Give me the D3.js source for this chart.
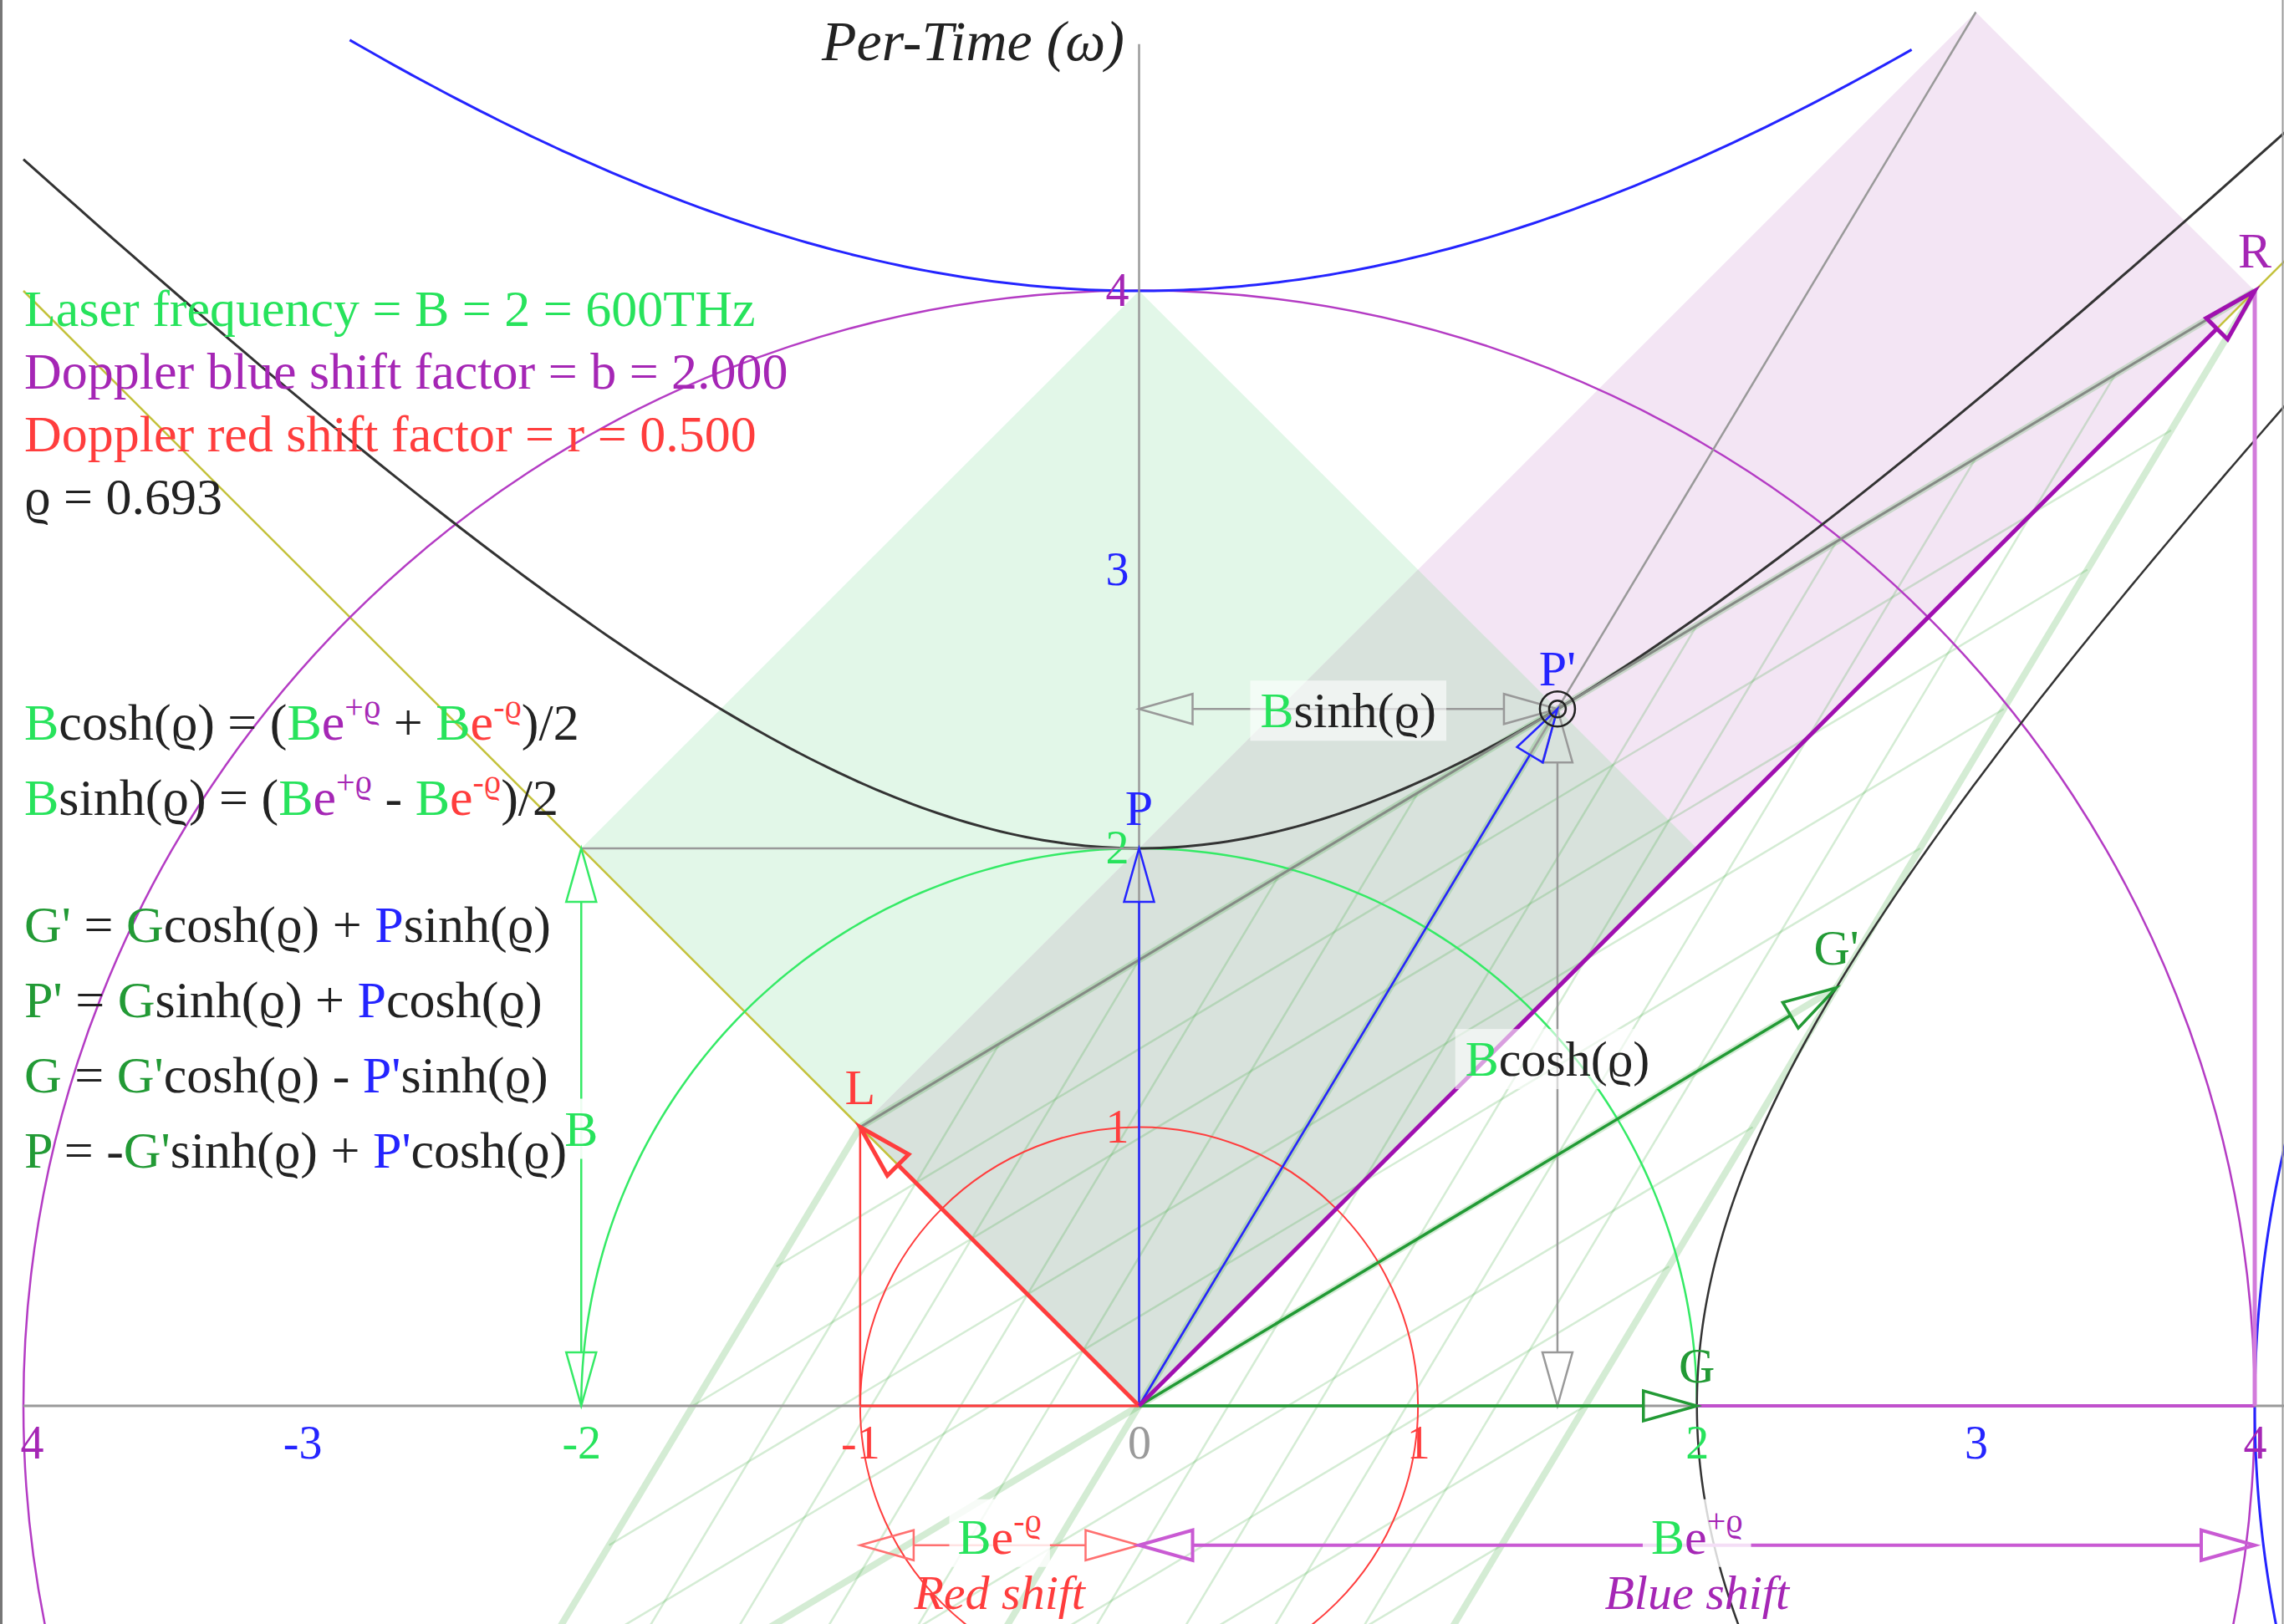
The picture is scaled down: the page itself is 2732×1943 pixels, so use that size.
<!DOCTYPE html>
<html>
<head>
<meta charset="utf-8">
<script src="https://cdn.jsdelivr.net/npm/d3@7"></script>
<style>
  html, body { margin: 0; padding: 0; background: #fff; }
  svg { display: block; font-family: "Liberation Serif", "Times New Roman", "DejaVu Serif", serif; }
  text, tspan { white-space: pre; }
</style>
</head>
<body>
<div id="chart"></div>
<script>
var width = 2732, height = 1943;

// colours
var GREEN = "#27e35c", DGREEN = "#229a35", MAG = "#a526b5", RED = "#ff3d3d",
    BLUE = "#2424ff", GREY = "#9a9a9a", INK = "#222";
var palette = {g: GREEN, d: DGREEN, m: MAG, r: RED, b: BLUE, k: INK};

// values (B = 2, rho = ln 2)
var coshR = 1.25, sinhR = 0.75;

// named points, chart units
var ptO = [0, 0], ptP = [0, 2], ptPp = [1.5, 2.5], ptG = [2, 0], ptGp = [2.5, 1.5],
    ptL = [-1, 1], ptR = [4, 4], ptLeft = [-2, 2], ptTop = [0, 4], ptRight = [2, 2],
    ptMid = [1, 3], ptPinkTop = [3, 5];

var xTicks = [-4, -3, -2, -1, 0, 1, 2, 3, 4];
var xTickLabels = ["4", "-3", "-2", "-1", "0", "1", "2", "3", "4"];
var yTicks = [1, 2, 3, 4];
var xTickColors = [MAG, BLUE, GREEN, RED, GREY, RED, GREEN, BLUE, MAG];
var yTickColors = [RED, GREEN, BLUE, MAG];

// boosted-frame grid, in steps of 0.4
var gridSteps = [-2, -1.6, -1.2, -0.8, -0.4, 0, 0.4, 0.8, 1.2, 1.6, 2];
var gridMajor = [-2, 0, 2];

var infoLines = ["Laser frequency = B = 2 = 600THz", "Doppler blue shift factor = b = 2.000",
                 "Doppler red shift factor = r = 0.500", "ϱ = 0.693"];
var infoColors = [GREEN, MAG, RED, INK];

var formulaLines = [
  [["B","g"],["cosh(ϱ) = (","k"],["B","g"],["e","m"],["+ϱ","m",1],[" + ","k"],["B","g"],["e","r"],["-ϱ","r",1],[")/2","k"]],
  [["B","g"],["sinh(ϱ) = (","k"],["B","g"],["e","m"],["+ϱ","m",1],[" - ","k"],["B","g"],["e","r"],["-ϱ","r",1],[")/2","k"]],
  [["G'","d"],[" = ","k"],["G","d"],["cosh(ϱ) + ","k"],["P","b"],["sinh(ϱ)","k"]],
  [["P'","d"],[" = ","k"],["G","d"],["sinh(ϱ) + ","k"],["P","b"],["cosh(ϱ)","k"]],
  [["G","d"],[" = ","k"],["G'","d"],["cosh(ϱ) - ","k"],["P'","b"],["sinh(ϱ)","k"]],
  [["P","d"],[" = -","k"],["G'","d"],["sinh(ϱ) + ","k"],["P'","b"],["cosh(ϱ)","k"]]
];

var x = d3.scaleLinear().domain([-4, 4]).range([28, 2697]);
var y = d3.scaleLinear().domain([0, 4]).range([1682, 348]);
var line = d3.line().x(d => x(d[0])).y(d => y(d[1]));
var poly = pts => pts.map(p => x(p[0]) + "," + y(p[1])).join(" ");

var svg = d3.select("#chart").append("svg")
    .attr("width", width).attr("height", height)
    .attr("viewBox", [0, 0, width, height]);

// light cone areas
svg.append("polygon").attr("points", poly([ptO, ptRight, ptTop, ptLeft])).attr("fill", "#e2f7e8");
svg.append("polygon").attr("points", poly([ptO, ptR, ptPinkTop, ptL])).attr("fill", "#f3e5f4");
svg.append("polygon").attr("points", poly([ptO, ptRight, ptMid, ptL])).attr("fill", "#d8e2dc");

// grid of the moving frame
var boost = (a, b) => [a * coshR + b * sinhR, a * sinhR + b * coshR];
var grid = [];
gridSteps.forEach(function(c) {
  var major = gridMajor.indexOf(c) >= 0;
  grid.push({a: boost(c, -2), b: boost(c, 2), major: major});
  grid.push({a: boost(-2, c), b: boost(2, c), major: major});
});
svg.append("g").selectAll("line").data(grid).join("line")
    .attr("x1", d => x(d.a[0])).attr("y1", d => y(d.a[1]))
    .attr("x2", d => x(d.b[0])).attr("y2", d => y(d.b[1]))
    .attr("stroke", "rgb(60,170,60)").attr("stroke-opacity", 0.22)
    .attr("stroke-width", d => d.major ? 8 : 2.5);

// light lines
svg.append("path").attr("d", line([[-4, 4], ptO, [4.3, 4.3]]))
    .attr("fill", "none").attr("stroke", "#c4c23c").attr("stroke-width", 2.5);

// circles
var rpx = r => x(r) - x(0);
svg.append("circle").attr("cx", x(0)).attr("cy", y(0)).attr("r", rpx(1))
    .attr("fill", "none").attr("stroke", RED).attr("stroke-width", 2);
svg.append("circle").attr("cx", x(0)).attr("cy", y(0)).attr("r", rpx(4))
    .attr("fill", "none").attr("stroke", "#b43cc4").attr("stroke-width", 2.5);
svg.append("path").attr("d", line(d3.range(0, 181).map(a => [2 * Math.cos(a * Math.PI / 180), 2 * Math.sin(a * Math.PI / 180)])))
    .attr("fill", "none").attr("stroke", "#35ea66").attr("stroke-width", 2.5);

// hyperbolas
function hyper(r, t0, t1, upright) {
  return d3.range(0, 201).map(function(i) {
    var t = t0 + (t1 - t0) * i / 200;
    return upright ? [r * Math.sinh(t), r * Math.cosh(t)] : [r * Math.cosh(t), r * Math.sinh(t)];
  });
}
svg.append("path").attr("d", line(hyper(4, Math.asinh(-2.83 / 4), Math.asinh(2.77 / 4), true)))
    .attr("fill", "none").attr("stroke", BLUE).attr("stroke-width", 3);
svg.append("path").attr("d", line(hyper(4, Math.asinh(-0.9 / 4), Math.asinh(1.6 / 4), false)))
    .attr("fill", "none").attr("stroke", BLUE).attr("stroke-width", 3);
svg.append("path").attr("d", line(hyper(2, Math.asinh(-2), Math.asinh(2.25), true)))
    .attr("fill", "none").attr("stroke", "#333").attr("stroke-width", 3);
svg.append("path").attr("d", line(hyper(2, Math.asinh(-0.45), Math.asinh(1.9), false)))
    .attr("fill", "none").attr("stroke", "#333").attr("stroke-width", 2.5);

// axes
svg.append("path").attr("d", line([[-4, 0], [4.3, 0]])).attr("stroke", GREY).attr("stroke-width", 3);
svg.append("path").attr("d", line([[0, 0], [0, 4.885]])).attr("stroke", GREY).attr("stroke-width", 2.5);

var gx = svg.append("g").attr("transform", "translate(0," + y(0) + ")")
    .call(d3.axisBottom(x).tickValues(xTicks).tickSize(0).tickPadding(23).tickFormat((d, i) => xTickLabels[i]))
    .call(g => g.select(".domain").remove());
gx.attr("font-family", null).attr("font-size", 56);
gx.selectAll("text").attr("fill", (d, i) => xTickColors[i]).attr("dx", (d, i) => i === 0 ? 10 : 0);

var gy = svg.append("g").attr("transform", "translate(" + x(0) + ",0)")
    .call(d3.axisLeft(y).tickValues(yTicks).tickSize(0).tickPadding(12).tickFormat(d3.format("d")))
    .call(g => g.select(".domain").remove());
gy.attr("font-family", null).attr("font-size", 56);
gy.selectAll("text").attr("fill", (d, i) => yTickColors[i]);

// thin construction lines
function seg(a, b, color, w) {
  svg.append("path").attr("d", line([a, b])).attr("fill", "none").attr("stroke", color).attr("stroke-width", w);
}
seg(ptO, ptPinkTop, "#999", 2.5);
seg(ptL, ptR, "#858a85", 3);
seg(ptLeft, ptP, "#999", 2.5);
seg([-1, 0], ptL, RED, 2.5);
seg([-1, 0], ptO, RED, 3);
seg(ptG, [4, 0], "#c050cc", 4);
seg([4, 0], ptR, "#d27cdb", 5);

// arrows with hollow heads
var HEAD = 64, HALF = 18;
function head(from, tip) {
  var x1 = x(from[0]), y1 = y(from[1]), x2 = x(tip[0]), y2 = y(tip[1]);
  var len = Math.hypot(x2 - x1, y2 - y1), ux = (x2 - x1) / len, uy = (y2 - y1) / len;
  var bx = x2 - ux * HEAD, by = y2 - uy * HEAD;
  return {d: "M" + x2 + "," + y2 + "L" + (bx - uy * HALF) + "," + (by + ux * HALF) +
             "L" + (bx + uy * HALF) + "," + (by - ux * HALF) + "Z", bx: bx, by: by};
}
function arrow(from, to, color, w, both) {
  var g = svg.append("g").attr("fill", "none").attr("stroke", color).attr("stroke-width", w);
  var h2 = head(from, to), sx = x(from[0]), sy = y(from[1]);
  if (both) {
    var h1 = head(to, from);
    sx = h1.bx; sy = h1.by;
    g.append("path").attr("d", h1.d);
  }
  g.append("line").attr("x1", sx).attr("y1", sy).attr("x2", h2.bx).attr("y2", h2.by);
  g.append("path").attr("d", h2.d);
}
arrow([1.5, 0], ptPp, "#999", 2.5, true);
arrow([0, 2.5], ptPp, "#999", 2.5, true);
arrow([-2, 0], ptLeft, "#35ea66", 2.5, true);
arrow([-1, -0.5], [0, -0.5], "#ff7070", 2.5, true);
arrow([0, -0.5], [4, -0.5], "#c95ad3", 4, true);
arrow(ptO, ptG, DGREEN, 3.5);
arrow(ptO, ptGp, DGREEN, 3.5);
arrow(ptO, ptP, BLUE, 2.5);
arrow(ptO, ptPp, BLUE, 2.5);
arrow(ptO, ptL, RED, 5);
arrow(ptO, ptR, "#a010b0", 5);

// marker at P'
[10, 21].forEach(function(r) {
  svg.append("circle").attr("cx", x(ptPp[0])).attr("cy", y(ptPp[1])).attr("r", r)
      .attr("fill", "none").attr("stroke", INK).attr("stroke-width", 2.5);
});

// point names
var names = [["P", ptP, BLUE], ["P'", ptPp, BLUE], ["G", ptG, DGREEN], ["G'", ptGp, DGREEN], ["L", ptL, RED], ["R", ptR, MAG]];
svg.append("g").attr("font-size", 60).attr("text-anchor", "middle")
  .selectAll("text").data(names).join("text")
    .attr("x", d => x(d[1][0])).attr("y", d => y(d[1][1]) - 28)
    .attr("fill", d => d[2]).text(d => d[0]);

// labels with a pale box behind
var SUP_SIZE = 40, SUP_RAISE = 26;
function rich(t, segs) {
  var up = false;
  segs.forEach(function(s) {
    var ts = t.append("tspan").text(s[0]).attr("fill", palette[s[1]]);
    if (s[2]) {
      ts.attr("font-size", SUP_SIZE);
      if (!up) { ts.attr("dy", -SUP_RAISE); up = true; }
    } else if (up) { ts.attr("dy", SUP_RAISE); up = false; }
  });
  return t;
}
function boxed(p, segs, opacity, padX, drop) {
  var g = svg.append("g").attr("font-size", 60);
  var t = rich(g.append("text").attr("x", x(p[0])).attr("y", y(p[1]) + drop).attr("text-anchor", "middle"), segs);
  var b = t.node().getBBox();
  g.insert("rect", () => t.node()).attr("x", b.x - padX).attr("y", b.y - 3)
      .attr("width", b.width + 2 * padX).attr("height", b.height + 6)
      .attr("fill", "#fff").attr("fill-opacity", opacity);
}
boxed([0.75, 2.5], [["B", "g"], ["sinh(ϱ)", "k"]], 0.6, 12, 22);
boxed([1.5, 1.25], [["B", "g"], ["cosh(ϱ)", "k"]], 0.6, 12, 22);
boxed([-2.0, 1], [["B", "g"]], 0.9, 2, 22);
boxed([-0.5, -0.5], [["B", "g"], ["e", "r"], ["-ϱ", "r", 1]], 0.8, 10, 10);
boxed([2, -0.5], [["B", "g"], ["e", "m"], ["+ϱ", "m", 1]], 0.8, 10, 10);

var shifts = [["Red shift", -0.5, RED], ["Blue shift", 2, MAG]];
svg.append("g").attr("font-size", 58).attr("font-style", "italic").attr("text-anchor", "middle")
  .selectAll("text").data(shifts).join("text")
    .attr("x", d => x(d[1])).attr("y", y(-0.5) + 76).attr("fill", d => d[2]).text(d => d[0]);

// axis title
svg.append("text").attr("x", 1345).attr("y", 72).attr("text-anchor", "end")
    .attr("font-size", 68).attr("font-style", "italic").attr("fill", INK).text("Per-Time (ω)");

// text blocks on the left
svg.append("g").attr("font-size", 62)
  .selectAll("text").data(infoLines).join("text")
    .attr("x", 29).attr("y", (d, i) => 390 + i * 75)
    .attr("fill", (d, i) => infoColors[i]).text(d => d);

var fg = svg.append("g").attr("font-size", 62);
formulaLines.forEach(function(segs, i) {
  rich(fg.append("text").attr("x", 29).attr("y", 885 + i * 90 + (i >= 2 ? 62 : 0)), segs);
});

// frame
svg.append("line").attr("x1", 1.5).attr("x2", 1.5).attr("y1", 0).attr("y2", height).attr("stroke", "#777").attr("stroke-width", 3);
svg.append("line").attr("x1", width - 1.5).attr("x2", width - 1.5).attr("y1", 0).attr("y2", height).attr("stroke", "#999").attr("stroke-width", 2);
</script>
</body>
</html>
